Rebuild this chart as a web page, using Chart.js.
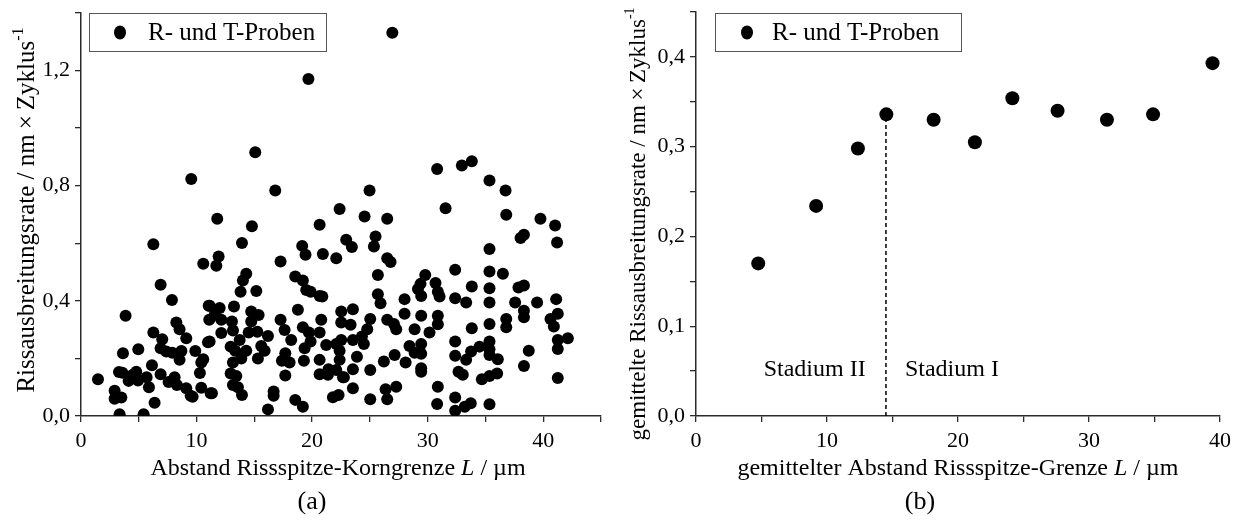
<!DOCTYPE html>
<html>
<head>
<meta charset="utf-8">
<script src="https://cdn.jsdelivr.net/npm/chart.js@4.4.1/dist/chart.umd.min.js"></script>
<style>
  html, body { margin: 0; padding: 0; background: #fff; }
  #wrap { position: relative; width: 1234px; height: 522px; overflow: hidden; }
  .pane { position: absolute; top: 0; width: 617px; height: 522px; }
  #pa { left: 0; }
  #pb { left: 617px; }
</style>
</head>
<body>
<div id="wrap">
  <div class="pane" id="pa"><canvas id="ca" width="617" height="522"></canvas></div>
  <div class="pane" id="pb"><canvas id="cb" width="617" height="522"></canvas></div>
</div>
<script>
// ---------------- data: panel (a) ----------------
const seriesLabel = "R- und T-Proben";
const distanceA = [
  9.54,6.26,10.58,6.89,7.87,11.05,3.86,11.10,8.25,8.53,6.26,9.11,7.03,10.99,6.89,7.38,7.90,8.69,4.96,9.89,
  3.63,8.53,10.58,10.41,6.14,3.29,3.58,4.78,4.49,6.89,10.29,5.68,8.10,1.47,4.12,4.93,7.58,8.30,5.88,9.11,
  10.41,2.91,9.49,9.66,11.22,2.91,3.49,6.37,3.34,5.42,
  15.08,16.81,11.79,22.38,14.79,20.65,13.93,19.14,19.43,20.93,22.09,11.91,11.71,17.27,14.30,14.01,18.54,19.20,13.81,15.17,
  19.49,19.87,20.65,20.88,11.13,13.24,12.00,18.77,14.73,15.37,11.56,12.14,13.06,14.73,17.27,20.79,22.52,22.52,17.62,19.20,
  19.72,13.15,14.51,15.26,12.14,16.18,20.65,18.19,19.87,11.13,13.73,21.22,22.09,15.60,12.95,19.35,14.30,15.89,13.35,22.38,
  17.68,13.87,15.31,17.39,18.05,19.29,20.65,22.38,13.15,21.42,22.09,20.65,21.37,12.95,13.44,17.68,22.67,13.15,13.58,13.93,
  11.33,16.67,16.67,18.54,19.20,16.18,21.80,22.29,
  30.82,32.96,33.82,24.97,31.55,24.54,26.50,22.95,23.44,25.49,25.35,26.50,26.79,25.69,32.38,29.79,29.38,29.16,30.68,30.88,
  31.03,29.44,25.69,25.92,28.00,32.38,33.33,33.82,23.53,23.33,25.03,26.50,27.08,27.28,28.00,29.44,30.88,30.88,28.87,30.16,
  24.77,24.31,23.53,24.48,22.52,28.43,28.87,29.44,29.44,32.38,32.38,33.33,33.76,33.82,23.88,23.53,22.75,26.21,27.14,28.09,
  25.03,29.44,29.44,32.67,33.04,23.53,25.03,26.36,26.50,27.28,30.88,30.82,32.38,32.38,33.21,33.73,
  35.35,36.74,36.80,39.76,41.03,41.20,38.04,38.33,35.35,35.35,36.51,35.35,37.86,38.33,35.35,37.57,39.47,41.12,38.33,38.33,
  41.26,40.63,40.92,36.80,36.80,35.35,42.13,41.26,41.26,38.75,35.35,35.35,35.35,36.07,34.49,38.33,36.01,35.35,34.69,41.26,
  35.35,
  19.68,26.94
];
const rateA = [
  0.823,0.597,0.529,0.456,0.403,0.383,0.348,0.334,0.325,0.301,0.290,0.270,0.267,0.256,0.235,0.224,0.220,0.226,0.232,0.226,
  0.218,0.195,0.197,0.186,0.176,0.153,0.150,0.154,0.143,0.145,0.149,0.135,0.135,0.128,0.122,0.123,0.118,0.108,0.100,0.096,
  0.098,0.088,0.070,0.067,0.079,0.060,0.064,0.046,0.006,0.006,
  0.916,0.783,0.685,0.719,0.659,0.664,0.601,0.591,0.560,0.563,0.548,0.554,0.522,0.537,0.494,0.471,0.485,0.471,0.432,0.434,
  0.438,0.432,0.417,0.415,0.383,0.380,0.375,0.369,0.363,0.351,0.351,0.334,0.328,0.328,0.334,0.334,0.363,0.325,0.299,0.308,
  0.290,0.297,0.290,0.293,0.288,0.278,0.290,0.264,0.259,0.259,0.264,0.247,0.250,0.243,0.241,0.235,0.227,0.227,0.227,0.227,
  0.218,0.200,0.200,0.192,0.186,0.192,0.195,0.195,0.186,0.162,0.160,0.145,0.143,0.148,0.139,0.141,0.135,0.108,0.100,0.073,
  0.079,0.085,0.070,0.056,0.032,0.023,0.065,0.073,
  0.858,0.870,0.885,0.783,0.722,0.693,0.685,0.612,0.587,0.624,0.589,0.548,0.535,0.490,0.508,0.490,0.459,0.441,0.462,0.432,
  0.415,0.417,0.423,0.392,0.406,0.409,0.394,0.450,0.371,0.317,0.337,0.334,0.320,0.301,0.355,0.348,0.348,0.319,0.301,0.290,
  0.301,0.276,0.264,0.250,0.264,0.243,0.220,0.250,0.216,0.259,0.209,0.195,0.224,0.305,0.206,0.162,0.135,0.189,0.212,0.186,
  0.160,0.166,0.154,0.154,0.143,0.096,0.058,0.093,0.058,0.102,0.102,0.042,0.064,0.018,0.032,0.044,
  0.818,0.783,0.699,0.685,0.662,0.603,0.618,0.630,0.580,0.502,0.494,0.444,0.446,0.453,0.394,0.394,0.394,0.406,0.366,0.343,
  0.355,0.337,0.311,0.337,0.308,0.320,0.270,0.264,0.233,0.227,0.259,0.232,0.212,0.197,0.241,0.174,0.148,0.139,0.128,0.132,
  0.041,
  1.171,1.331
];
const xTicksA = [0, 10, 20, 30, 40];
const yTicksA = [0.0, 0.4, 0.8, 1.2];

// ---------------- data: panel (b) ----------------
const distanceB = [4.75, 9.17, 12.36, 14.53, 18.14, 21.29, 24.15, 27.60, 31.37, 34.89, 39.43];
const rateB     = [0.170, 0.234, 0.298, 0.336, 0.330, 0.305, 0.354, 0.340, 0.330, 0.336, 0.393];
const stageBoundaryX = 14.5;
const stageBoundaryTop = 0.336;
const xTicksB = [0, 10, 20, 30, 40];
const yTicksB = [0.0, 0.1, 0.2, 0.3, 0.4];
const stageLabels = ["Stadium II", "Stadium I"];

// ---------------- helpers ----------------
const SERIF = '"Liberation Serif", "Times New Roman", serif';
const AXIS = '#2b2b2b';

function fmtComma(v) { return v.toFixed(1).replace('.', ','); }
function isIn(list, v) { return list.some(t => Math.abs(t - v) < 1e-6); }

function drawRich(ctx, parts, cx, cy, size, rotate) {
  ctx.save();
  ctx.translate(cx, cy);
  if (rotate) ctx.rotate(-Math.PI / 2);
  ctx.textBaseline = 'alphabetic';
  ctx.fillStyle = '#000';
  const fontOf = p => (p.italic ? 'italic ' : '') + (p.sup ? Math.round(size * 0.62) : size) + 'px ' + SERIF;
  let total = 0;
  parts.forEach(p => { ctx.font = fontOf(p); total += ctx.measureText(p.t).width; });
  let x = -total / 2;
  const base = size * 0.33;
  parts.forEach(p => {
    ctx.font = fontOf(p);
    ctx.textAlign = 'left';
    ctx.fillText(p.t, x, p.sup ? base - size * 0.45 : base);
    x += ctx.measureText(p.t).width;
  });
  ctx.restore();
}

function overlay(o) {
  return {
    id: 'overlay',
    afterDraw(chart) {
      const ctx = chart.ctx;
      const ca = chart.chartArea;
      const lx = ca.left + o.legDx, ly = o.legY;
      ctx.save();
      ctx.strokeStyle = '#555';
      ctx.lineWidth = 1;
      ctx.strokeRect(lx + 0.5, ly + 0.5, o.legW, o.legH);
      ctx.fillStyle = '#000';
      ctx.beginPath();
      ctx.ellipse(lx + o.legMark, ly + o.legH / 2 + 0.5, 6, 7, 0, 0, Math.PI * 2);
      ctx.fill();
      ctx.font = '25px ' + SERIF;
      ctx.textBaseline = 'middle';
      ctx.textAlign = 'left';
      ctx.fillText(chart.data.datasets[0].label, lx + o.legText, ly + o.legH / 2 + 1);
      ctx.restore();
      drawRich(ctx, o.xTitle, o.xTitleX, 467, 24, false);
      drawRich(ctx, o.yTitle, o.yTitleX, o.yTitleY, o.yTitleSize, true);
      drawRich(ctx, [{t: o.letter}], o.letterX, 500, 26, false);
      if (o.extra) o.extra(chart);
    }
  };
}

function scaleX(max, majors, h) {
  return {
    type: 'linear', min: 0, max: max,
    afterFit(s) { s.height = h; s.paddingLeft = 0; s.paddingRight = 0; },
    ticks: {
      stepSize: 5, autoSkip: false, maxRotation: 0, padding: 6,
      color: '#000', font: { family: SERIF, size: 22 },
      callback: v => isIn(majors, v) ? String(v) : ''
    },
    grid: { drawOnChartArea: false, drawTicks: true, tickLength: 6, color: AXIS, lineWidth: 1.3 },
    border: { display: true, color: AXIS, width: 1.5 }
  };
}
function scaleY(max, step, majors, w) {
  return {
    type: 'linear', min: 0, max: max,
    afterFit(s) { s.width = w; s.paddingTop = 0; s.paddingBottom = 0; },
    ticks: {
      stepSize: step, autoSkip: false, padding: 5,
      color: '#000', font: { family: SERIF, size: 22 },
      callback: v => isIn(majors, v) ? fmtComma(v) : ''
    },
    grid: { drawOnChartArea: false, drawTicks: true, tickLength: 6, color: AXIS, lineWidth: 1.3 },
    border: { display: true, color: AXIS, width: 1.5 }
  };
}

const common = {
  responsive: false, animation: false, devicePixelRatio: 1,
  plugins: { legend: { display: false }, tooltip: { enabled: false } }
};

// ---------------- chart (a) ----------------
new Chart(document.getElementById('ca'), {
  type: 'scatter',
  data: {
    datasets: [{
      label: seriesLabel,
      data: distanceA.map((x, i) => ({ x: x, y: rateA[i] })),
      backgroundColor: '#000', borderWidth: 0, pointRadius: 6
    }]
  },
  options: Object.assign({}, common, {
    layout: { padding: { top: 13, right: 16, left: 0, bottom: 0 } },
    scales: { x: scaleX(45, xTicksA, 106), y: scaleY(1.4, 0.2, yTicksA, 81) }
  }),
  plugins: [overlay({
    legDx: 8, legY: 13, legW: 237, legH: 38, legMark: 31, legText: 59,
    xTitle: [{t: 'Abstand Rissspitze-Korngrenze '}, {t: 'L', italic: true}, {t: ' / µm'}],
    xTitleX: 338,
    yTitle: [{t: 'Rissausbreitungsrate / nm\u2009\u00d7\u2009Zyklus'}, {t: '-1', sup: true}],
    yTitleX: 26, yTitleY: 210, yTitleSize: 25,
    letter: '(a)', letterX: 312
  })]
});

// ---------------- chart (b) ----------------
new Chart(document.getElementById('cb'), {
  type: 'scatter',
  data: {
    datasets: [{
      label: seriesLabel,
      data: distanceB.map((x, i) => ({ x: x, y: rateB[i] })),
      backgroundColor: '#000', borderWidth: 0, pointRadius: 7, order: 1
    }, {
      type: 'line',
      label: 'Grenze',
      data: [{ x: stageBoundaryX, y: 0 }, { x: stageBoundaryX, y: stageBoundaryTop }],
      borderColor: '#000', borderWidth: 1.5, borderDash: [4, 3], pointRadius: 0, fill: false, order: 2
    }]
  },
  options: Object.assign({}, common, {
    layout: { padding: { top: 12, right: 14, left: 0, bottom: 0 } },
    scales: { x: scaleX(40, xTicksB, 106), y: scaleY(0.45, 0.05, yTicksB, 79) }
  }),
  plugins: [overlay({
    legDx: 19, legY: 13, legW: 246, legH: 38, legMark: 32, legText: 57,
    xTitle: [{t: 'gemittelter Abstand Rissspitze-Grenze '}, {t: 'L', italic: true}, {t: ' / µm'}],
    xTitleX: 958 - 617,
    yTitle: [{t: 'gemittelte Rissausbreitungsrate / nm\u2009\u00d7\u2009Zyklus'}, {t: '-1', sup: true}],
    yTitleX: 637 - 617, yTitleY: 224, yTitleSize: 23,
    letter: '(b)', letterX: 920 - 617,
    extra(chart) {
      const ctx = chart.ctx, xs = chart.scales.x, ys = chart.scales.y;
      ctx.save();
      ctx.fillStyle = '#000';
      ctx.font = '24px ' + SERIF;
      ctx.textBaseline = 'middle';
      ctx.textAlign = 'right';
      ctx.fillText(stageLabels[0], xs.getPixelForValue(12.95), ys.getPixelForValue(0.052));
      ctx.textAlign = 'left';
      ctx.fillText(stageLabels[1], xs.getPixelForValue(15.95), ys.getPixelForValue(0.052));
      ctx.restore();
    }
  })]
});
</script>
</body>
</html>
